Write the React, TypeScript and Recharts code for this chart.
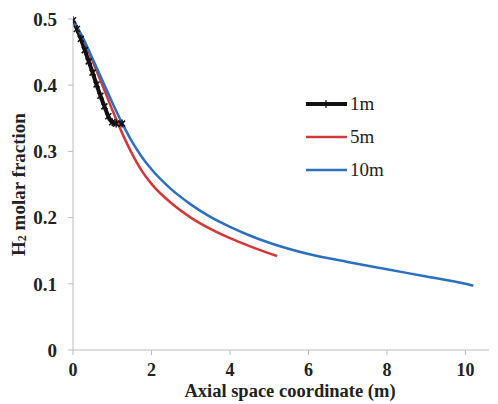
import React from 'react';
import { LineChart, Line, XAxis, YAxis, Label } from 'recharts';

// axial position (m) and H2 molar fraction for each reactor length
const x1m = [0, 0.1, 0.2, 0.3, 0.4, 0.5, 0.6, 0.7, 0.8, 0.9, 1.0, 1.1, 1.25];
const y1m = [0.498, 0.485, 0.47, 0.453, 0.436, 0.419, 0.401, 0.384, 0.368, 0.353, 0.344, 0.342, 0.342];

const x5m = [0, 0.25, 0.5, 0.75, 1.0, 1.25, 1.5, 1.75, 2, 2.5, 3, 3.5, 4, 4.5, 5, 5.2];
const y5m = [0.498, 0.471, 0.436, 0.4, 0.363, 0.328, 0.297, 0.271, 0.251, 0.222, 0.2, 0.183, 0.169, 0.157, 0.146, 0.142];

const x10m = [0, 0.25, 0.5, 0.75, 1.0, 1.25, 1.5, 1.75, 2, 2.5, 3, 3.5, 4, 4.5, 5, 6, 7, 8, 9, 10, 10.2];
const y10m = [0.498, 0.472, 0.44, 0.407, 0.374, 0.343, 0.315, 0.292, 0.273, 0.243, 0.22, 0.201, 0.186, 0.173, 0.162, 0.145, 0.133, 0.122, 0.111, 0.1, 0.097];

const xTicks = [0, 2, 4, 6, 8, 10];
const yTicks = [0, 0.1, 0.2, 0.3, 0.4, 0.5];

const toPoints = (xs: number[], ys: number[]) => xs.map((x, i) => ({ x, y: ys[i] }));

const series = [
  { name: '1m', data: toPoints(x1m, y1m), color: '#111111', width: 4, marker: true },
  { name: '5m', data: toPoints(x5m, y5m), color: '#d2383a', width: 2.5, marker: false },
  { name: '10m', data: toPoints(x10m, y10m), color: '#2c6fbf', width: 2.5, marker: false },
];

const serif = '"Liberation Serif", "Times New Roman", serif';
const axisGray = '#bdbdbd';

// little asterisk used on the 1m curve
const Star = (props: any) => {
  const { cx, cy } = props;
  if (cx == null || cy == null) return null;
  const s = 3;
  return (
    <g stroke="#111" strokeWidth={1.5}>
      <line x1={cx - s} y1={cy - s} x2={cx + s} y2={cy + s} />
      <line x1={cx - s} y1={cy + s} x2={cx + s} y2={cy - s} />
      <line x1={cx} y1={cy - s - 1} x2={cx} y2={cy + s + 1} />
    </g>
  );
};

const LegendBox = () => (
  <div style={{ position: 'absolute', left: 305, top: 87, fontFamily: serif, fontSize: 19, color: '#222' }}>
    {series.map((s) => (
      <div key={s.name} style={{ display: 'flex', alignItems: 'center', height: 33 }}>
        <svg width={44} height={12}>
          <line x1={1} y1={6} x2={42} y2={6} stroke={s.color} strokeWidth={s.width} />
          {s.marker && <line x1={21} y1={2} x2={21} y2={10} stroke="#111" strokeWidth={1.2} />}
        </svg>
        <span style={{ marginLeft: 1 }}>{s.name}</span>
      </div>
    ))}
  </div>
);

export default function App() {
  return (
    <div style={{ position: 'absolute', left: 0, top: 0, width: 498, height: 404, background: '#fff' }}>
      <LineChart width={498} height={404} margin={{ top: 19, right: 9, bottom: 0, left: 0 }}>
        <XAxis
          type="number"
          dataKey="x"
          domain={[0, 10.6]}
          ticks={xTicks}
          allowDataOverflow
          height={54}
          stroke={axisGray}
          tickSize={5}
          tickMargin={8}
          tick={{ fill: '#222', fontFamily: serif, fontWeight: 'bold', fontSize: 18 }}
        >
          <Label
            content={({ viewBox }: any) => (
              <text
                x={viewBox.x + viewBox.width / 2 + 9}
                y={viewBox.y + viewBox.height - 7}
                textAnchor="middle"
                fontFamily={serif}
                fontWeight="bold"
                fontSize={18.5}
                fill="#222"
              >
                Axial space coordinate (m)
              </text>
            )}
          />
        </XAxis>
        <YAxis
          type="number"
          dataKey="y"
          domain={[0, 0.5]}
          ticks={yTicks}
          width={73}
          stroke={axisGray}
          tickSize={5}
          tickMargin={11}
          tick={{ fill: '#222', fontFamily: serif, fontWeight: 'bold', fontSize: 19 }}
        >
          <Label
            content={({ viewBox }: any) => {
              const cx = viewBox.x + 18;
              const cy = viewBox.y + viewBox.height / 2;
              return (
                <text
                  transform={`translate(${cx},${cy}) rotate(-90)`}
                  textAnchor="middle"
                  dominantBaseline="central"
                  fontFamily={serif}
                  fontWeight="bold"
                  fontSize={19}
                  fill="#222"
                >
                  H<tspan dy={4} fontSize={12}>2</tspan>
                  <tspan dy={-4}> molar fraction</tspan>
                </text>
              );
            }}
          />
        </YAxis>
        {series.map((s) => (
          <Line
            key={s.name}
            data={s.data}
            dataKey="y"
            name={s.name}
            type="monotone"
            stroke={s.color}
            strokeWidth={s.width}
            dot={s.marker ? <Star /> : false}
            activeDot={false}
            isAnimationActive={false}
          />
        ))}
      </LineChart>
      <LegendBox />
    </div>
  );
}
